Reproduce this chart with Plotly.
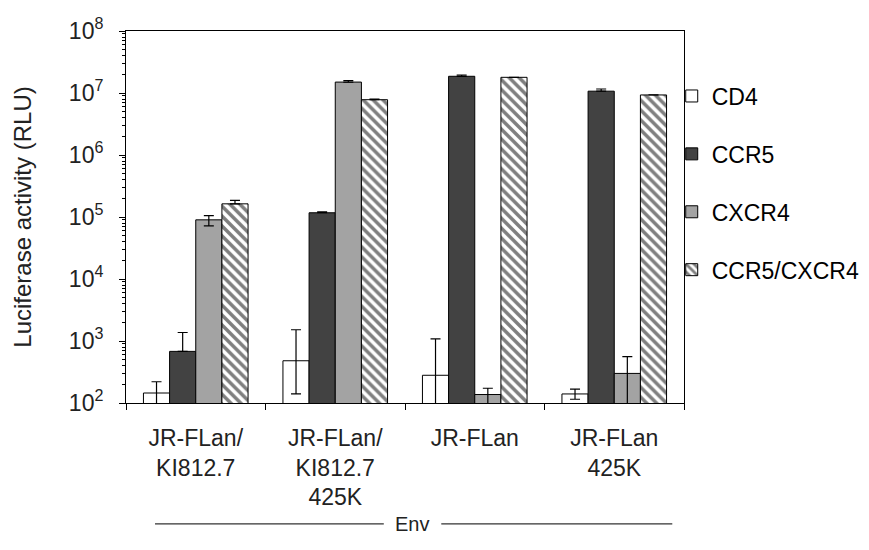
import plotly.graph_objects as go

categories = ["JR-FLan/<br>KI812.7", "JR-FLan/<br>KI812.7<br>425K", "JR-FLan", "JR-FLan<br>425K"]

cd4 = [145, 480, 280, 140]
cd4_plus = [75, 1040, 800, 27]
cd4_minus = [90, 340, 230, 25]

ccr5 = [680, 1.17e5, 1.86e7, 1.07e7]
ccr5_plus = [690, 4.0e3, 9.0e5, 9.0e5]
ccr5_minus = [0, 0, 0, 0]

cxcr4 = [9.0e4, 1.5e7, 137, 300]
cxcr4_plus = [1.5e4, 9.0e5, 36, 260]
cxcr4_minus = [1.8e4, 0, 100, 250]

dual = [1.63e5, 7.8e6, 1.79e7, 9.3e6]
dual_plus = [2.2e4, 2.0e5, 0, 0]
dual_minus = [0, 0, 0, 0]

ytick_vals = [10 ** e for e in range(2, 9)]
ytick_text = ["10<sup>%d</sup>" % e for e in range(2, 9)]
minor_vals = [m * 10 ** e for e in range(2, 8) for m in range(2, 10)]

FONT = "Liberation Sans, Arial, sans-serif"
ENV_Y = -0.325

def err(plus, minus):
    return dict(type="data", symmetric=False, array=plus, arrayminus=minus,
                color="black", thickness=1.2, width=5)

fig = go.Figure()
fig.add_trace(go.Bar(name="CD4", x=categories, y=cd4, legendgroup="a",
                     marker=dict(color="white", line=dict(color="black", width=1)),
                     error_y=err(cd4_plus, cd4_minus)))
fig.add_trace(go.Bar(name="CCR5", x=categories, y=ccr5, legendgroup="b",
                     marker=dict(color="#424242", line=dict(color="black", width=1)),
                     error_y=err(ccr5_plus, ccr5_minus)))
fig.add_trace(go.Bar(name="CXCR4", x=categories, y=cxcr4, legendgroup="c",
                     marker=dict(color="#a3a3a3", line=dict(color="black", width=1)),
                     error_y=err(cxcr4_plus, cxcr4_minus)))
fig.add_trace(go.Bar(name="CCR5/CXCR4", x=categories, y=dual, legendgroup="d",
                     marker=dict(color="white", line=dict(color="black", width=1),
                                 pattern=dict(shape="\\", fgcolor="black", bgcolor="white",
                                              size=7, solidity=0.5)),
                     error_y=err(dual_plus, dual_minus)))

fig.update_layout(
    width=869, height=550,
    margin=dict(l=118, r=179, t=23, b=155),
    paper_bgcolor="white", plot_bgcolor="white",
    barmode="group", bargap=0.25, bargroupgap=0,
    font=dict(family=FONT, color="black", size=20),
    showlegend=True,
    legend=dict(x=0.978, xanchor="left", y=0.883, yanchor="top",
                font=dict(family=FONT, size=23, color="black"),
                tracegroupgap=25, itemwidth=30, bgcolor="rgba(0,0,0,0)"),
    xaxis=dict(showline=True, linecolor="black", linewidth=1, mirror=True,
               automargin=False,
               ticks="outside", tickson="boundaries", ticklen=6, tickcolor="black",
               tickfont=dict(family=FONT, size=23, color="#222"),
               ticklabelstandoff=14, showgrid=False),
    yaxis=dict(type="log", range=[2, 8], showline=True, linecolor="black", linewidth=1,
               mirror=True, automargin=False, ticks="outside", ticklen=6, tickcolor="black",
               tickmode="array", tickvals=ytick_vals, ticktext=ytick_text,
               tickfont=dict(family=FONT, size=23, color="#222"),
               ticklabelstandoff=11,
               minor=dict(tickmode="array", tickvals=minor_vals, ticks="outside",
                          ticklen=3, tickcolor="black", showgrid=False),
               showgrid=False,
               title=dict(text="Luciferase activity (RLU)",
                          font=dict(family=FONT, size=24, color="#222"), standoff=30)),
    annotations=[dict(text="Env", x=0.512, y=ENV_Y, xref="paper", yref="paper",
                      xanchor="center", yanchor="middle", showarrow=False,
                      font=dict(family=FONT, size=20, color="#222"))],
    shapes=[
        dict(type="line", xref="paper", yref="paper", x0=0.052, x1=0.462,
             y0=ENV_Y, y1=ENV_Y, line=dict(color="#333", width=1.3)),
        dict(type="line", xref="paper", yref="paper", x0=0.565, x1=0.979,
             y0=ENV_Y, y1=ENV_Y, line=dict(color="#333", width=1.3)),
    ],
)

fig.write_html("out.html")
